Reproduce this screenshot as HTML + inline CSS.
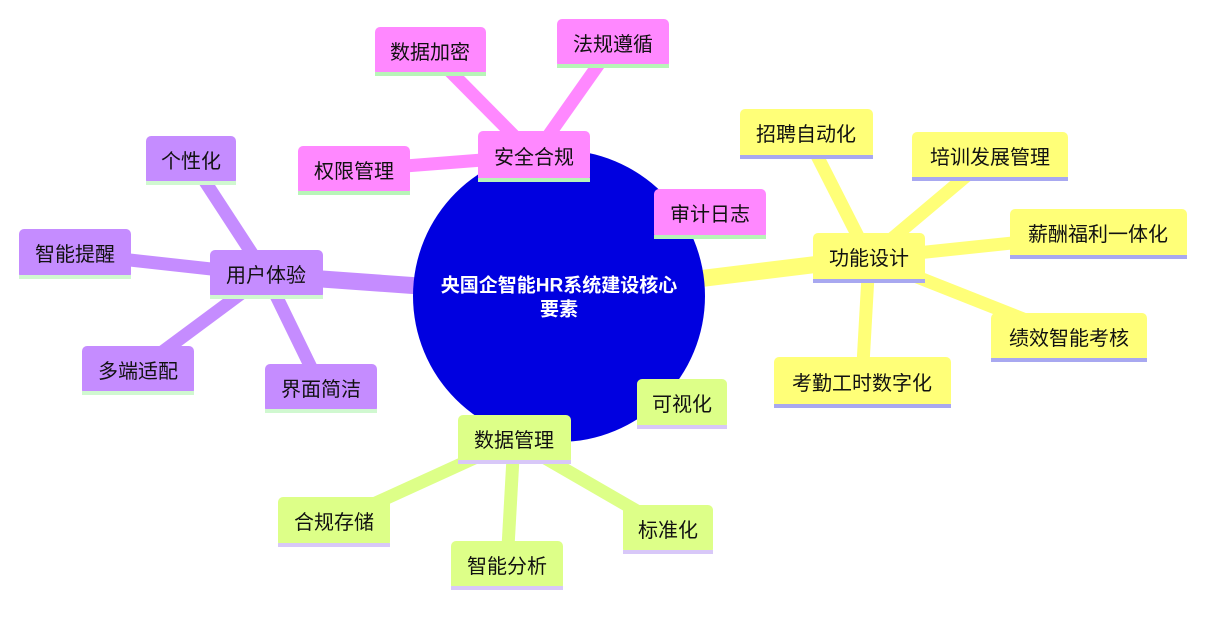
<!DOCTYPE html>
<html><head><meta charset="utf-8"><style>
body{margin:0;background:#fff;}
svg text{font-family:"Liberation Sans","Noto Sans CJK SC",sans-serif;font-size:20px;text-anchor:middle;dominant-baseline:central;fill:#111;}
</style></head><body>
<svg width="1205" height="612" xmlns="http://www.w3.org/2000/svg">
<g stroke-linecap="butt">
<g stroke="#ff88ff" stroke-width="13">
<line x1="534" y1="156" x2="430" y2="51"/>
<line x1="534" y1="156" x2="613" y2="44"/>
<line x1="534" y1="156" x2="354" y2="170"/>
</g>
<line x1="559" y1="296" x2="534" y2="156" stroke="#ff88ff" stroke-width="17"/>
<g stroke="#ffff78" stroke-width="13">
<line x1="869" y1="258" x2="806" y2="134"/>
<line x1="869" y1="258" x2="990" y2="156"/>
<line x1="869" y1="258" x2="1098" y2="234"/>
<line x1="869" y1="258" x2="1069" y2="337"/>
<line x1="869" y1="258" x2="862" y2="382"/>
</g>
<line x1="559" y1="296" x2="869" y2="258" stroke="#ffff78" stroke-width="17"/>
<g stroke="#ddff88" stroke-width="13">
<line x1="514" y1="440" x2="334" y2="522"/>
<line x1="514" y1="440" x2="507" y2="565"/>
<line x1="514" y1="440" x2="668" y2="529"/>
</g>
<line x1="559" y1="296" x2="514" y2="440" stroke="#ddff88" stroke-width="17"/>
<g stroke="#c58cff" stroke-width="13">
<line x1="266" y1="275" x2="191" y2="160"/>
<line x1="266" y1="275" x2="75" y2="254"/>
<line x1="266" y1="275" x2="138" y2="370"/>
<line x1="266" y1="275" x2="321" y2="388"/>
</g>
<line x1="559" y1="296" x2="266" y2="275" stroke="#c58cff" stroke-width="17"/>
</g>
<circle cx="559" cy="296" r="146" fill="#0000e0"/>
<text x="559" y="286" style="fill:#fff;font-size:19px;font-weight:bold">央国企智能HR系统建设核心</text>
<text x="559" y="310" style="fill:#fff;font-size:19px;font-weight:bold">要素</text>

<g fill="#ff88ff">
<rect x="478" y="131" width="112" height="51" rx="5"/>
<rect x="375" y="27" width="111" height="49" rx="5"/>
<rect x="557" y="19" width="112" height="49" rx="5"/>
<rect x="298" y="146" width="112" height="49" rx="5"/>
<rect x="654" y="189" width="112" height="50" rx="5"/>
</g>
<g fill="#b8f5b8">
<rect x="478" y="178" width="112" height="4"/>
<rect x="375" y="72" width="111" height="4"/>
<rect x="557" y="64" width="112" height="4"/>
<rect x="298" y="191" width="112" height="4"/>
<rect x="654" y="235" width="112" height="4"/>
</g>
<g fill="#ffff78">
<rect x="813" y="233" width="112" height="50" rx="5"/>
<rect x="740" y="109" width="133" height="50" rx="5"/>
<rect x="912" y="132" width="156" height="49" rx="5"/>
<rect x="1010" y="209" width="177" height="50" rx="5"/>
<rect x="991" y="313" width="156" height="49" rx="5"/>
<rect x="774" y="357" width="177" height="51" rx="5"/>
</g>
<g fill="#a8a8f0">
<rect x="813" y="279" width="112" height="4"/>
<rect x="740" y="155" width="133" height="4"/>
<rect x="912" y="177" width="156" height="4"/>
<rect x="1010" y="255" width="177" height="4"/>
<rect x="991" y="358" width="156" height="4"/>
<rect x="774" y="404" width="177" height="4"/>
</g>
<g fill="#ddff88">
<rect x="458" y="415" width="113" height="49" rx="5"/>
<rect x="637" y="379" width="90" height="50" rx="5"/>
<rect x="278" y="497" width="112" height="50" rx="5"/>
<rect x="451" y="541" width="112" height="49" rx="5"/>
<rect x="623" y="505" width="90" height="49" rx="5"/>
</g>
<g fill="#d8c8f8">
<rect x="458" y="460" width="113" height="4"/>
<rect x="637" y="425" width="90" height="4"/>
<rect x="278" y="543" width="112" height="4"/>
<rect x="451" y="586" width="112" height="4"/>
<rect x="623" y="550" width="90" height="4"/>
</g>
<g fill="#c58cff">
<rect x="210" y="250" width="113" height="49" rx="5"/>
<rect x="146" y="136" width="90" height="49" rx="5"/>
<rect x="19" y="229" width="112" height="50" rx="5"/>
<rect x="82" y="346" width="112" height="49" rx="5"/>
<rect x="265" y="364" width="112" height="49" rx="5"/>
</g>
<g fill="#d0f8d0">
<rect x="210" y="295" width="113" height="4"/>
<rect x="146" y="181" width="90" height="4"/>
<rect x="19" y="275" width="112" height="4"/>
<rect x="82" y="391" width="112" height="4"/>
<rect x="265" y="409" width="112" height="4"/>
</g>

<text x="534" y="158">安全合规</text>
<text x="430" y="53">数据加密</text>
<text x="613" y="45">法规遵循</text>
<text x="354" y="172">权限管理</text>
<text x="710" y="215">审计日志</text>
<text x="869" y="259">功能设计</text>
<text x="806" y="135">招聘自动化</text>
<text x="990" y="158">培训发展管理</text>
<text x="1098" y="235">薪酬福利一体化</text>
<text x="1069" y="339">绩效智能考核</text>
<text x="862" y="384">考勤工时数字化</text>
<text x="514" y="441">数据管理</text>
<text x="682" y="405">可视化</text>
<text x="334" y="523">合规存储</text>
<text x="507" y="567">智能分析</text>
<text x="668" y="531">标准化</text>
<text x="266" y="276">用户体验</text>
<text x="191" y="162">个性化</text>
<text x="75" y="255">智能提醒</text>
<text x="138" y="372">多端适配</text>
<text x="321" y="390">界面简洁</text>
</svg>
</body></html>
